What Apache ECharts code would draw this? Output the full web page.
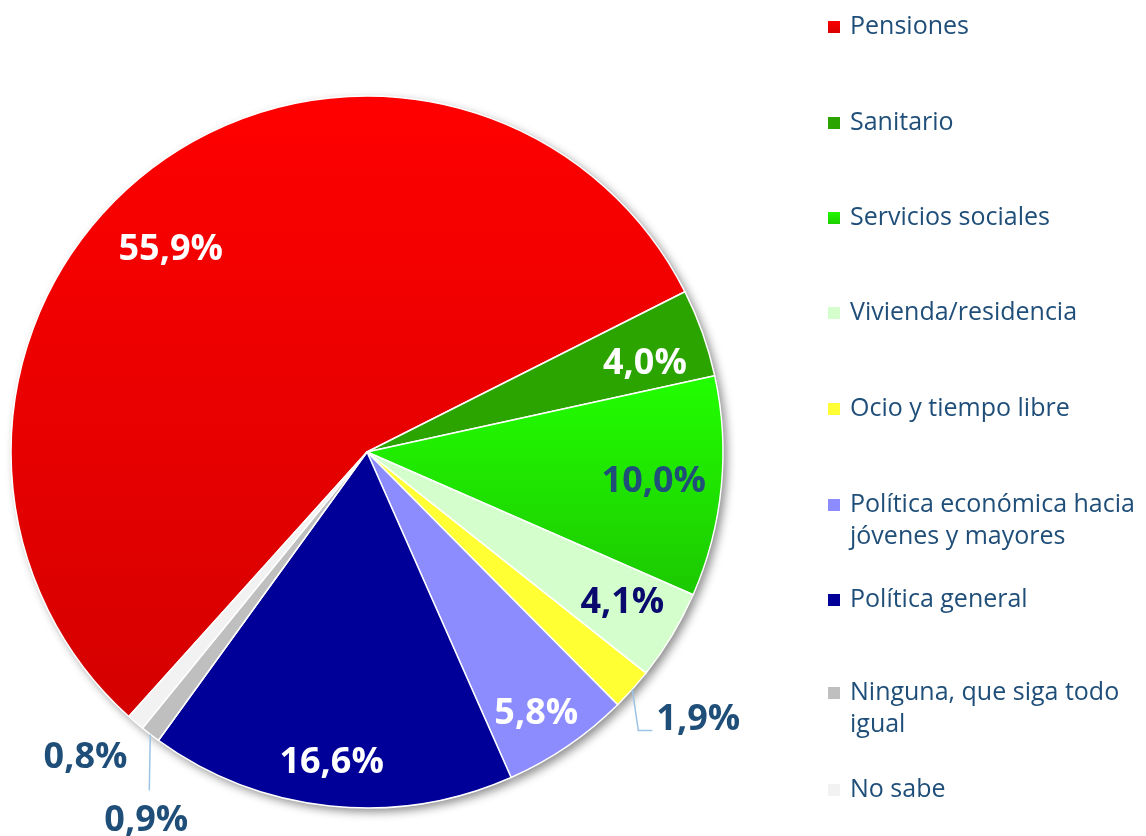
<!DOCTYPE html>
<html>
<head>
<meta charset="utf-8">
<script src="https://cdn.jsdelivr.net/npm/echarts@6/dist/echarts.min.js"></script>
<style>
  html, body { margin: 0; padding: 0; background: #fff; }
  #chart { width: 1146px; height: 836px; }
</style>
</head>
<body>
<div id="chart"></div>
<script>
// Datos
var categories = ['Pensiones', 'Sanitario', 'Servicios sociales', 'Vivienda/residencia', 'Ocio y tiempo libre',
  'Política económica hacia jóvenes y mayores', 'Política general', 'Ninguna, que siga todo igual', 'No sabe'];
var shares = [55.9, 4.0, 10.0, 4.1, 1.9, 5.8, 16.6, 0.9, 0.8];

// Estilos
var sliceColors = [
  new echarts.graphic.LinearGradient(0, 0, 0, 1, [{offset: 0, color: '#ff0000'}, {offset: 1, color: '#d40000'}]),
  '#2ca400',
  new echarts.graphic.LinearGradient(0, 0, 0, 1, [{offset: 0, color: '#22ff00'}, {offset: 1, color: '#1cc800'}]),
  '#d4ffcc', '#ffff33', '#8c8cff', '#000099', '#bfbfbf', '#f2f2f2'
];
var DARK = '#1f4e79';
var labelColors = ['#fff', '#fff', DARK, '#0a0a6e', DARK, '#fff', '#fff', DARK, DARK];
// pequeños ajustes de posicion de las etiquetas interiores [dx, dy]
var labelNudge = [[-14, 36], [-5, 12], [-12, 0], [-2, -4], [0, 0], [0, 14], [-4, 12], [0, 0], [0, 0]];
var outsideLabels = ['Ocio y tiempo libre', 'Ninguna, que siga todo igual', 'No sabe'];
var legendText = {
  'Política económica hacia jóvenes y mayores': '\nPolítica económica hacia\njóvenes y mayores',
  'Ninguna, que siga todo igual': '\nNinguna, que siga todo\nigual'
};
var legendCenters = [25, 121, 216, 311, 407, 505, 598, 693, 788];
var FONT = '"Open Sans", "DejaVu Sans", sans-serif';
var CENTER = [367, 452];
var R = 356;
var LH = 32;

function fmt(v) { return v.toFixed(1).replace('.', ',') + '%'; }

var chart = echarts.init(document.getElementById('chart'), null, {renderer: 'canvas'});

var mainData = categories.map(function (n, i) {
  return { name: n, value: shares[i], itemStyle: { color: sliceColors[i] } };
});
var shadowData = categories.map(function (n, i) {
  return { name: n, value: shares[i] };
});
var labelData = categories.map(function (n, i) {
  var outside = outsideLabels.indexOf(n) >= 0;
  return {
    name: n, value: shares[i],
    label: { position: outside ? 'outside' : 'inside', color: labelColors[i] },
    labelLine: { show: outside, lineStyle: { opacity: n === 'No sabe' ? 0 : 1 } }
  };
});

///////////LEYENDA (una por entrada para respetar las posiciones)
var legends = categories.map(function (n, i) {
  var twoLines = !!legendText[n];
  return {
    data: [n],
    left: 826,
    top: legendCenters[i] - (twoLines ? LH * 1.5 : LH / 2 - 2),
    padding: 0,
    icon: 'rect',
    itemWidth: 14,
    itemHeight: 14,
    selectedMode: false,
    formatter: function (name) { return legendText[name] || name; },
    textStyle: {
      fontFamily: FONT, fontSize: 25, color: DARK, lineHeight: LH,
      padding: [0, 0, 0, 4]
    }
  };
});

var option = {
  backgroundColor: '#fff',
  animation: false,
  legend: legends,
  series: [
    {
      // tarta principal
      type: 'pie', name: 'main', z: 2,
      center: CENTER, radius: R,
      startAngle: 228, clockwise: true,
      silent: true, avoidLabelOverlap: false,
      label: { show: false }, labelLine: { show: false },
      itemStyle: { borderColor: '#fff', borderWidth: 1.5 },
      data: mainData
    },
    {
      // sombra
      type: 'pie', name: 'shadow', z: 1,
      center: CENTER, radius: R,
      startAngle: 228, clockwise: true,
      silent: true,
      label: { show: false }, labelLine: { show: false },
      itemStyle: { color: '#fff', shadowBlur: 10, shadowOffsetX: 4, shadowOffsetY: 4, shadowColor: 'rgba(0,0,0,0.45)' },
      data: shadowData
    },
    {
      // etiquetas
      type: 'pie', name: 'labels', z: 3,
      center: CENTER, radius: [R * 0.67, R],
      startAngle: 228, clockwise: true,
      silent: true, avoidLabelOverlap: false,
      itemStyle: { color: 'rgba(0,0,0,0)' },
      label: {
        show: true, fontFamily: FONT, fontWeight: 'bold', fontSize: 36,
        formatter: function (p) { return fmt(p.value); }
      },
      labelLine: { length: 30, length2: 10, lineStyle: { color: '#9dc3e6', width: 1.5 } },
      labelLayout: function (p) {
        var n = categories[p.dataIndex];
        var a = p.labelLinePoints && p.labelLinePoints[0];
        if (n === 'Ocio y tiempo libre' && a) {
          return { x: a[0] + 24, y: a[1] + 30, align: 'left', verticalAlign: 'middle',
            labelLinePoints: [a, [a[0] + 6, a[1] + 41], [a[0] + 20, a[1] + 41]] };
        }
        if (n === 'Ninguna, que siga todo igual' && a) {
          return { x: a[0] - 4, y: a[1] + 86, align: 'center', verticalAlign: 'middle',
            labelLinePoints: [a, [a[0] - 1, a[1] + 56], [a[0] - 1, a[1] + 56]] };
        }
        if (n === 'No sabe' && a) {
          return { x: a[0] - 50, y: a[1] + 35, align: 'center', verticalAlign: 'middle' };
        }
        var d = labelNudge[p.dataIndex];
        return { dx: d[0], dy: d[1] };
      },
      data: labelData
    }
  ]
};

chart.setOption(option);
</script>
</body>
</html>
